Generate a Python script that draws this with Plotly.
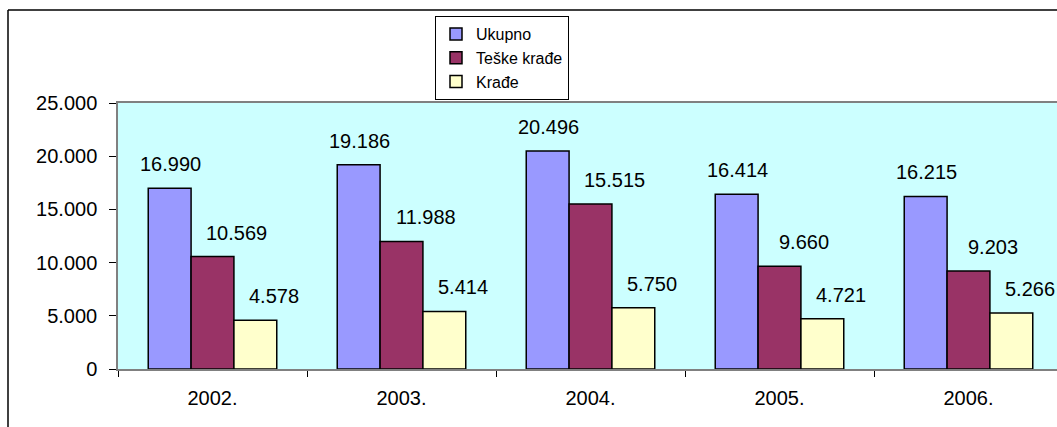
import plotly.graph_objects as go

years = ["2002.", "2003.", "2004.", "2005.", "2006."]
ukupno = [16990, 19186, 20496, 16414, 16215]
teske = [10569, 11988, 15515, 9660, 9203]
krade = [4578, 5414, 5750, 4721, 5266]

series = [
    ("Ukupno", ukupno, "#9999FF"),
    ("Teške krađe", teske, "#993366"),
    ("Krađe", krade, "#FFFFCC"),
]

FONT = "Liberation Sans, Arial, sans-serif"

fig = go.Figure()
for name, vals, col in series:
    fig.add_trace(go.Bar(
        name=name, x=years, y=vals,
        marker=dict(color=col, line=dict(color="black", width=1.5)),
    ))

# data labels (Excel-style, above each bar)
label_shift = [-42, 24, 61]
for (name, vals, col), xs in zip(series, label_shift):
    for i, v in enumerate(vals):
        fig.add_annotation(
            x=i, y=v, xref="x", yref="y",
            text=f"{v:,}".replace(",", "."),
            showarrow=False, xshift=xs, yshift=24,
            xanchor="center", yanchor="middle",
            font=dict(family=FONT, size=20, color="black"),
        )

W, H = 1057, 427
L, R, T, B = 118, 0, 103, 58
pw = W - L - R
ph = H - T - B

def px_x(p):
    return (p - L) / pw

def px_y(p):
    return (H - B - p) / ph

# outer chart border (left and top edges visible)
fig.add_shape(type="line", xref="paper", yref="paper",
              x0=px_x(8), x1=px_x(8), y0=px_y(440), y1=px_y(10),
              line=dict(color="black", width=1.5))
fig.add_shape(type="line", xref="paper", yref="paper",
              x0=px_x(8), x1=px_x(1070), y0=px_y(10), y1=px_y(10),
              line=dict(color="black", width=1.5))

fig.update_layout(
    width=W, height=H,
    margin=dict(l=L, r=R, t=T, b=B, pad=0),
    paper_bgcolor="white",
    plot_bgcolor="#CCFFFF",
    separators=",.",
    barmode="group",
    bargap=0.32,
    bargroupgap=0,
    font=dict(family=FONT, size=20, color="black"),
    showlegend=True,
    legend=dict(
        x=px_x(435), y=px_y(16), xanchor="left", yanchor="top",
        bgcolor="white", bordercolor="black", borderwidth=1,
        font=dict(family=FONT, size=16, color="black"),
        tracegroupgap=0, traceorder="normal",
    ),
    xaxis=dict(
        type="category",
        range=[-0.5, 4.5 - (L + 5 * 189 - W) / 189],
        showline=True, linecolor="#808080", linewidth=1.5, mirror=True,
        ticks="outside", tickson="boundaries", ticklen=6, tickcolor="black",
        ticklabelstandoff=10,
        showgrid=False, zeroline=False,
        tickfont=dict(family=FONT, size=20, color="black"),
    ),
    yaxis=dict(
        range=[0, 25000], dtick=5000, tickformat=",d",
        showline=True, linecolor="#808080", linewidth=1.5, mirror=False,
        ticks="outside", ticklen=7, tickcolor="black",
        ticklabelstandoff=8,
        showgrid=False, zeroline=False,
        tickfont=dict(family=FONT, size=20, color="black"),
    ),
)

fig.write_html(
    "out.html",
    config={"displayModeBar": False},
    post_script="document.body.style.margin='0';document.body.style.overflow='hidden';",
)
